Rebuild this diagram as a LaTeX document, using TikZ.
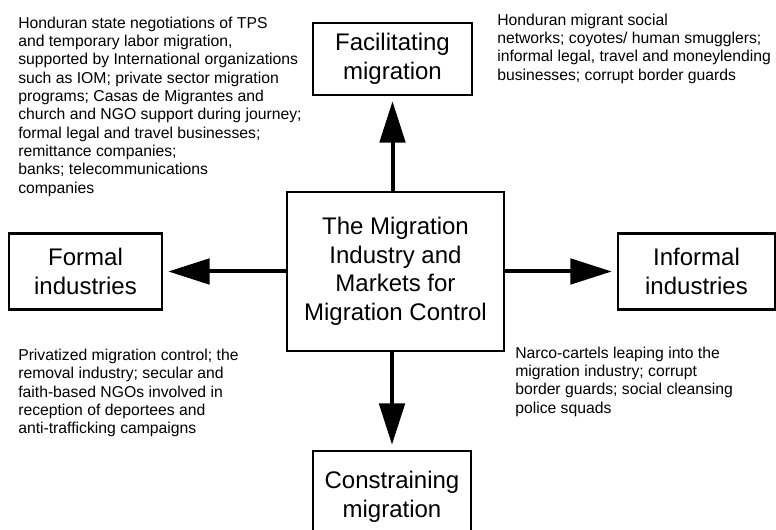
\documentclass[tikz,border=0pt]{standalone}
\usepackage{fontspec}
\setmainfont{Liberation Sans}
\usetikzlibrary{arrows.meta,calc}

\tikzset{
	box/.style={draw, line width=1.9pt, align=center, inner sep=0pt, font=\fontsize{18}{21.4}\selectfont},
	note/.style={anchor=north west, align=left, inner sep=0pt, font=\fontsize{11.8}{13.75}\selectfont},
	arr/.style={line width=3pt, -{Triangle[length=31pt,width=19pt]}, shorten >=3.75pt}
}

\begin{document}
\begin{tikzpicture}[x=7.5pt, y=7.5pt]
		%%%%% START %%%%%
		
		\useasboundingbox (0, 0) rectangle (77.6, 53);
		
		\node[box, minimum width=162.75pt, minimum height=119.25pt] (market) at (39.55, 25.85) {The Migration\\Industry and\\Markets for\\Migration Control};
		
		\node[box, minimum width=119.25pt, minimum height=54pt] (fac) at (39.25, 47.1) {Facilitating\\migration};
		\node[box, minimum width=118.5pt, minimum height=69pt] (con) at (39.2, 3.3) {Constraining\\migration};
		\node[box, minimum width=114.75pt, minimum height=57pt] (formal) at (8.55, 25.85) {Formal\\industries};
		\node[box, minimum width=117.75pt, minimum height=57pt] (informal) at (69.65, 25.85) {Informal\\industries};
		
		\draw[arr] (market.north -| fac.south) -- (fac.south);
		\draw[arr] (market.south -| con.north) -- (con.north);
		\draw[arr] (market.west) -- (formal.east);
		\draw[arr] (market.east) -- (informal.west);
		
		\node[note] (facformal) at (1.8, 51.34) {Honduran state negotiations of TPS\\and temporary labor migration,\\supported by International organizations\\such as IOM; private sector migration\\programs; Casas de Migrantes and\\church and NGO support during journey;\\formal legal and travel businesses;\\remittance companies;\\banks; telecommunications\\companies};
		\node[note] (facinformal) at (49.7, 51.65) {Honduran migrant social\\networks; coyotes/ human smugglers;\\informal legal, travel and moneylending\\businesses; corrupt border guards};
		\node[note] (conformal) at (1.8, 18.1) {Privatized migration control; the\\removal industry; secular and\\faith-based NGOs involved in\\reception of deportees and\\anti-trafficking campaigns};
		\node[note] (coninformal) at (51.5, 18.34) {Narco-cartels leaping into the\\migration industry; corrupt\\border guards; social cleansing\\police squads};
		
		%%%%% END %%%%%
	\end{tikzpicture}
\end{document}
